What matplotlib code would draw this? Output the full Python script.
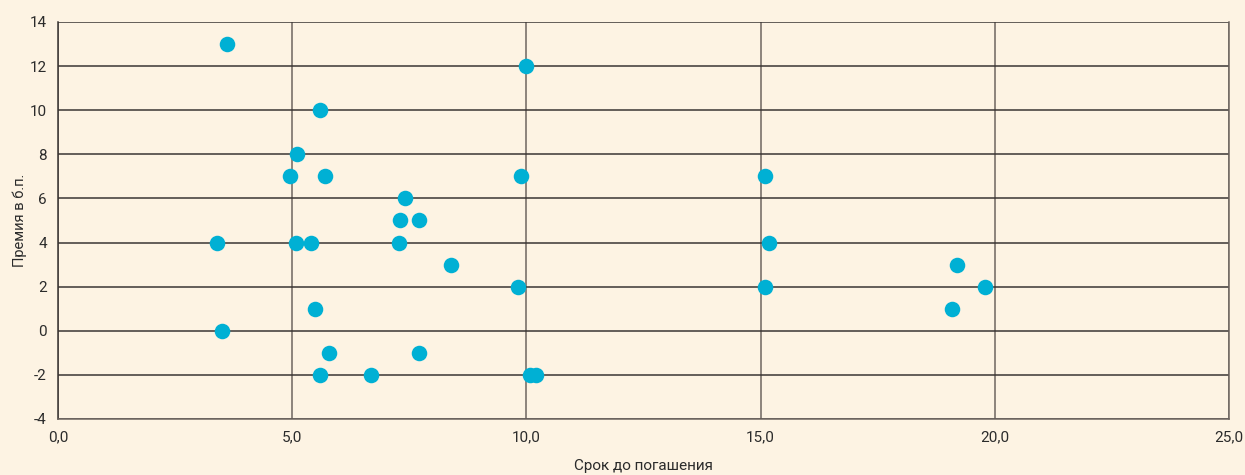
import matplotlib.pyplot as plt
import matplotlib.ticker as mticker
import numpy as np

plt.rcParams['font.family'] = ['Roboto', 'DejaVu Sans']
plt.rcParams['axes.unicode_minus'] = False

##########
# data

term = [3.61, 9.99, 5.59, 5.10, 4.95, 5.70, 9.88, 15.09, 7.41, 7.30, 7.71,
        3.39, 5.08, 5.40, 7.28, 15.18, 8.39, 19.19, 9.82, 15.09, 19.79,
        5.49, 19.09, 3.50, 5.79, 7.71, 5.59, 6.68, 10.08, 10.20]
premium = [13, 12, 10, 8, 7, 7, 7, 7, 6, 5, 5,
           4, 4, 4, 4, 4, 3, 3, 2, 2, 2,
           1, 1, 0, -1, -1, -2, -2, -2, -2]

xticks = [0, 5, 10, 15, 20, 25]
yticks = [-4, -2, 0, 2, 4, 6, 8, 10, 12, 14]

bg = '#fdf3e3'
grid_c = '#3a3533'

##########
# figure

fig = plt.figure(figsize=(12.45, 4.75), dpi=100, facecolor=bg)
ax = fig.add_axes([0.0466, 0.1179, 0.9405, 0.8358])
ax.set_facecolor(bg)

ax.set_xlim(0, 25)
ax.set_ylim(-4, 14)
ax.set_xticks(xticks)
ax.set_yticks(yticks)
ax.xaxis.set_major_formatter(mticker.FuncFormatter(lambda v, p: f'{v:.1f}'.replace('.', ',')))
ax.tick_params(length=0, labelsize=11, colors='#2b2b2b', pad=8)

ax.grid(axis='y', color=grid_c, linewidth=1.1)
ax.grid(axis='x', color='#6e6660', linewidth=1.1)
ax.set_axisbelow(True)

ax.spines['top'].set_visible(False)
ax.spines['left'].set_color(grid_c)
ax.spines['right'].set_color('#6e6660')
ax.spines['bottom'].set_color('#6e6660')
for s in ax.spines.values():
    s.set_linewidth(1.1)

ax.scatter(term, premium, s=125, color='#00b0d4', zorder=3, linewidths=0)

ax.set_xlabel('Срок до погашения', fontsize=11, color='#2b2b2b', labelpad=11)
ax.set_ylabel('Премия в б.п.', fontsize=10.5, color='#2b2b2b', labelpad=2)

fig.savefig('out.png', dpi=100, facecolor=bg)
